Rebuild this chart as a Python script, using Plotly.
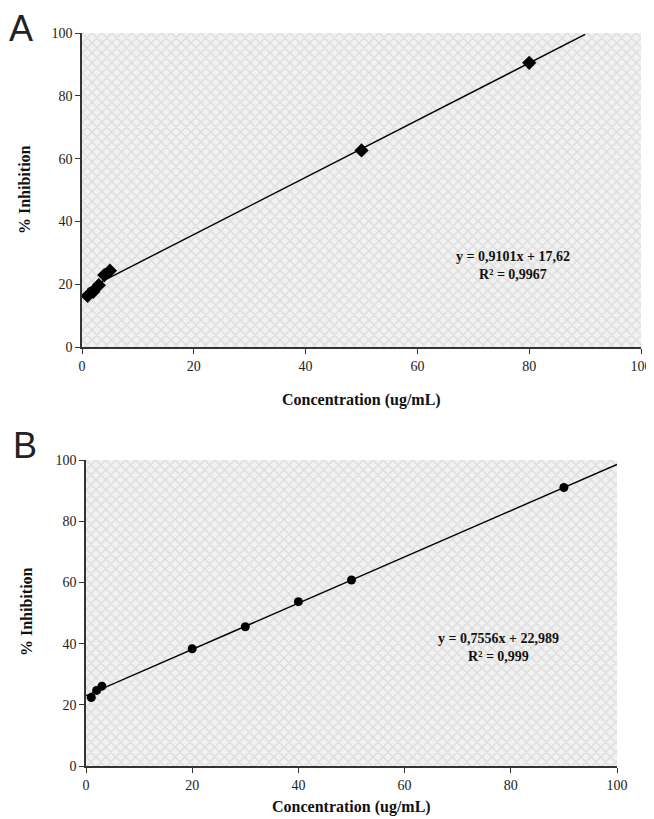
import plotly.graph_objects as go

# Panel A data
conc_a = [1, 2, 3, 4, 5, 50, 80]
inhib_a = [16.3, 17.6, 19.7, 22.9, 24.3, 62.6, 90.5]
slope_a, icpt_a = 0.9101, 17.62
trend_x_a = [1, 90]
eq_a = "y = 0,9101x + 17,62"
r2_a = "R² = 0,9967"

# Panel B data
conc_b = [1, 2, 3, 20, 30, 40, 50, 90]
inhib_b = [22.4, 24.7, 26.1, 38.3, 45.5, 53.7, 60.8, 91.0]
slope_b, icpt_b = 0.7556, 22.989
trend_x_b = [0, 100]
eq_b = "y = 0,7556x + 22,989"
r2_b = "R² = 0,999"

ticks = [0, 20, 40, 60, 80, 100]
x_title = "Concentration (ug/mL)"
y_title = "% Inhibition"

OFF = 8  # default page body margin
W, H = 654 - OFF, 819 - OFF
def px(x): return (x - OFF) / W
def py(y): return 1 - (y - OFF) / H

serif = "Liberation Serif"
fig = go.Figure()

for i, (xa, ya) in enumerate([("x", "y"), ("x2", "y2")]):
    fig.add_trace(go.Scatter(
        x=[0, 100, 100, 0, 0], y=[0, 0, 100, 100, 0], mode="lines",
        line=dict(width=0), fill="toself", fillcolor="#f0f0f0",
        fillpattern=dict(shape="x", fgcolor="#c6c6c6", bgcolor="#f2f2f2", size=7, solidity=0.38),
        xaxis=xa, yaxis=ya, hoverinfo="skip", showlegend=False))

# trend lines
fig.add_trace(go.Scatter(x=trend_x_a, y=[slope_a * v + icpt_a for v in trend_x_a], mode="lines",
                         line=dict(color="black", width=1.4), xaxis="x", yaxis="y", showlegend=False))
fig.add_trace(go.Scatter(x=trend_x_b, y=[slope_b * v + icpt_b for v in trend_x_b], mode="lines",
                         line=dict(color="black", width=1.4), xaxis="x2", yaxis="y2", showlegend=False))
# markers
fig.add_trace(go.Scatter(x=conc_a, y=inhib_a, mode="markers",
                         marker=dict(symbol="diamond", size=11, color="black"),
                         xaxis="x", yaxis="y", showlegend=False))
fig.add_trace(go.Scatter(x=conc_b, y=inhib_b, mode="markers",
                         marker=dict(symbol="circle", size=9, color="black"),
                         xaxis="x2", yaxis="y2", showlegend=False))

axis_common = dict(range=[0, 100], tickvals=ticks, showgrid=False, zeroline=False,
                   showline=True, linecolor="#333", linewidth=1.5, ticks="outside",
                   ticklen=5, tickcolor="#333", tickwidth=1.3, automargin=False,
                   tickfont=dict(family=serif, size=14, color="#222"))

fig.update_layout(
    width=W, height=H, margin=dict(l=0, r=0, t=0, b=0, autoexpand=False),
    paper_bgcolor="white", plot_bgcolor="white",
    xaxis=dict(domain=[px(82), px(641)], anchor="y", **axis_common),
    yaxis=dict(domain=[py(347), py(33)], anchor="x", **axis_common),
    xaxis2=dict(domain=[px(86), px(617)], anchor="y2", **axis_common),
    yaxis2=dict(domain=[py(766), py(460)], anchor="x2", **axis_common),
)

ann = []
tf = dict(family=serif, size=16, color="#111")
ann.append(dict(text="<b>" + x_title + "</b>", x=px(361), y=py(400), xref="paper", yref="paper",
                showarrow=False, font=tf, xanchor="center", yanchor="middle"))
ann.append(dict(text="<b>" + x_title + "</b>", x=px(351), y=py(807), xref="paper", yref="paper",
                showarrow=False, font=tf, xanchor="center", yanchor="middle"))
ann.append(dict(text="<b>" + y_title + "</b>", x=px(24), y=py(190), xref="paper", yref="paper",
                showarrow=False, font=tf, textangle=-90, xanchor="center", yanchor="middle"))
ann.append(dict(text="<b>" + y_title + "</b>", x=px(26), y=py(612), xref="paper", yref="paper",
                showarrow=False, font=tf, textangle=-90, xanchor="center", yanchor="middle"))
ef = dict(family=serif, size=14, color="#111")
ann.append(dict(text="<b>" + eq_a + "</b><br><b>" + r2_a + "</b>", x=px(513), y=py(265),
                xref="paper", yref="paper", showarrow=False, font=ef, align="center",
                xanchor="center", yanchor="middle"))
ann.append(dict(text="<b>" + eq_b + "</b><br><b>" + r2_b + "</b>", x=px(498), y=py(647),
                xref="paper", yref="paper", showarrow=False, font=ef, align="center",
                xanchor="center", yanchor="middle"))
lf = dict(family="Liberation Sans", size=36, color="#222")
ann.append(dict(text="A", x=px(21), y=py(29), xref="paper", yref="paper", showarrow=False,
                font=lf, xanchor="center", yanchor="middle"))
ann.append(dict(text="B", x=px(25), y=py(445), xref="paper", yref="paper", showarrow=False,
                font=lf, xanchor="center", yanchor="middle"))
fig.update_layout(annotations=ann)

fig.write_html("out.html")
